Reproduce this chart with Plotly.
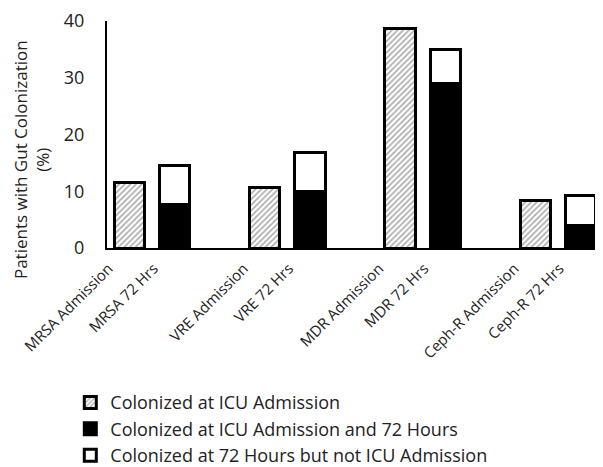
import plotly.graph_objects as go

groups = ["MRSA", "VRE", "MDR", "Ceph-R"]
admission = [11.5, 10.7, 38.7, 8.4]
both_72 = [7.7, 10.0, 29.0, 4.0]
total_72 = [14.5, 16.8, 35.0, 9.2]
new_72 = [t - b for t, b in zip(total_72, both_72)]
tick_labels = []
for g in groups:
    tick_labels += [g + " Admission", g + " 72 Hrs"]

x_adm = [i * 3 for i in range(len(groups))]
x_72 = [i * 3 + 1 for i in range(len(groups))]

font = "Open Sans, Lato, sans-serif"
line = dict(color="black", width=3)

fig = go.Figure()
fig.add_trace(go.Bar(
    x=x_adm, y=admission, name="Colonized at ICU Admission",
    marker=dict(color="white", line=line,
                pattern=dict(shape="/", fgcolor="#555", bgcolor="white", size=4, solidity=0.4)),
    width=0.67))
fig.add_trace(go.Bar(
    x=x_72, y=both_72, name="Colonized at ICU Admission and 72 Hours",
    marker=dict(color="black", line=line), width=0.67))
fig.add_trace(go.Bar(
    x=x_72, y=new_72, name="Colonized at 72 Hours but not ICU Admission",
    marker=dict(color="white", line=line), width=0.67))

tickvals = []
for a, b in zip(x_adm, x_72):
    tickvals += [a, b]

# page body has an 8px margin, so the figure is drawn 8px smaller and offset
fig.update_layout(
    barmode="stack",
    width=595, height=459,
    margin=dict(l=99, r=0, t=13, b=219, autoexpand=False),
    paper_bgcolor="white", plot_bgcolor="white",
    font=dict(family=font, color="#222"),
    showlegend=True,
    legend=dict(x=-0.074, y=-0.6, xanchor="left", yanchor="top",
                font=dict(size=18, color="#222"), traceorder="normal",
                tracegroupgap=0, bgcolor="rgba(0,0,0,0)"),
    xaxis=dict(range=[-0.5, 10.5], tickvals=tickvals, ticktext=tick_labels,
               tickangle=-45, tickfont=dict(size=15), showline=True,
               linecolor="black", linewidth=2, showgrid=False, zeroline=False,
               ticks="", automargin=False, ticklabelshift=-21, ticklabelstandoff=4),
    yaxis=dict(range=[0, 40], tickvals=[0, 10, 20, 30, 40], tickfont=dict(size=18),
               showline=True, linecolor="black", linewidth=2, showgrid=False,
               zeroline=False, ticks="", ticklabelstandoff=17, automargin=False),
    annotations=[dict(text="Patients with Gut Colonization<br>(%)", textangle=-90,
                      xref="paper", yref="paper", x=-0.152, y=0.39,
                      xanchor="center", yanchor="middle", showarrow=False,
                      font=dict(size=17, color="#222"))],
)
fig.write_html("out.html")
